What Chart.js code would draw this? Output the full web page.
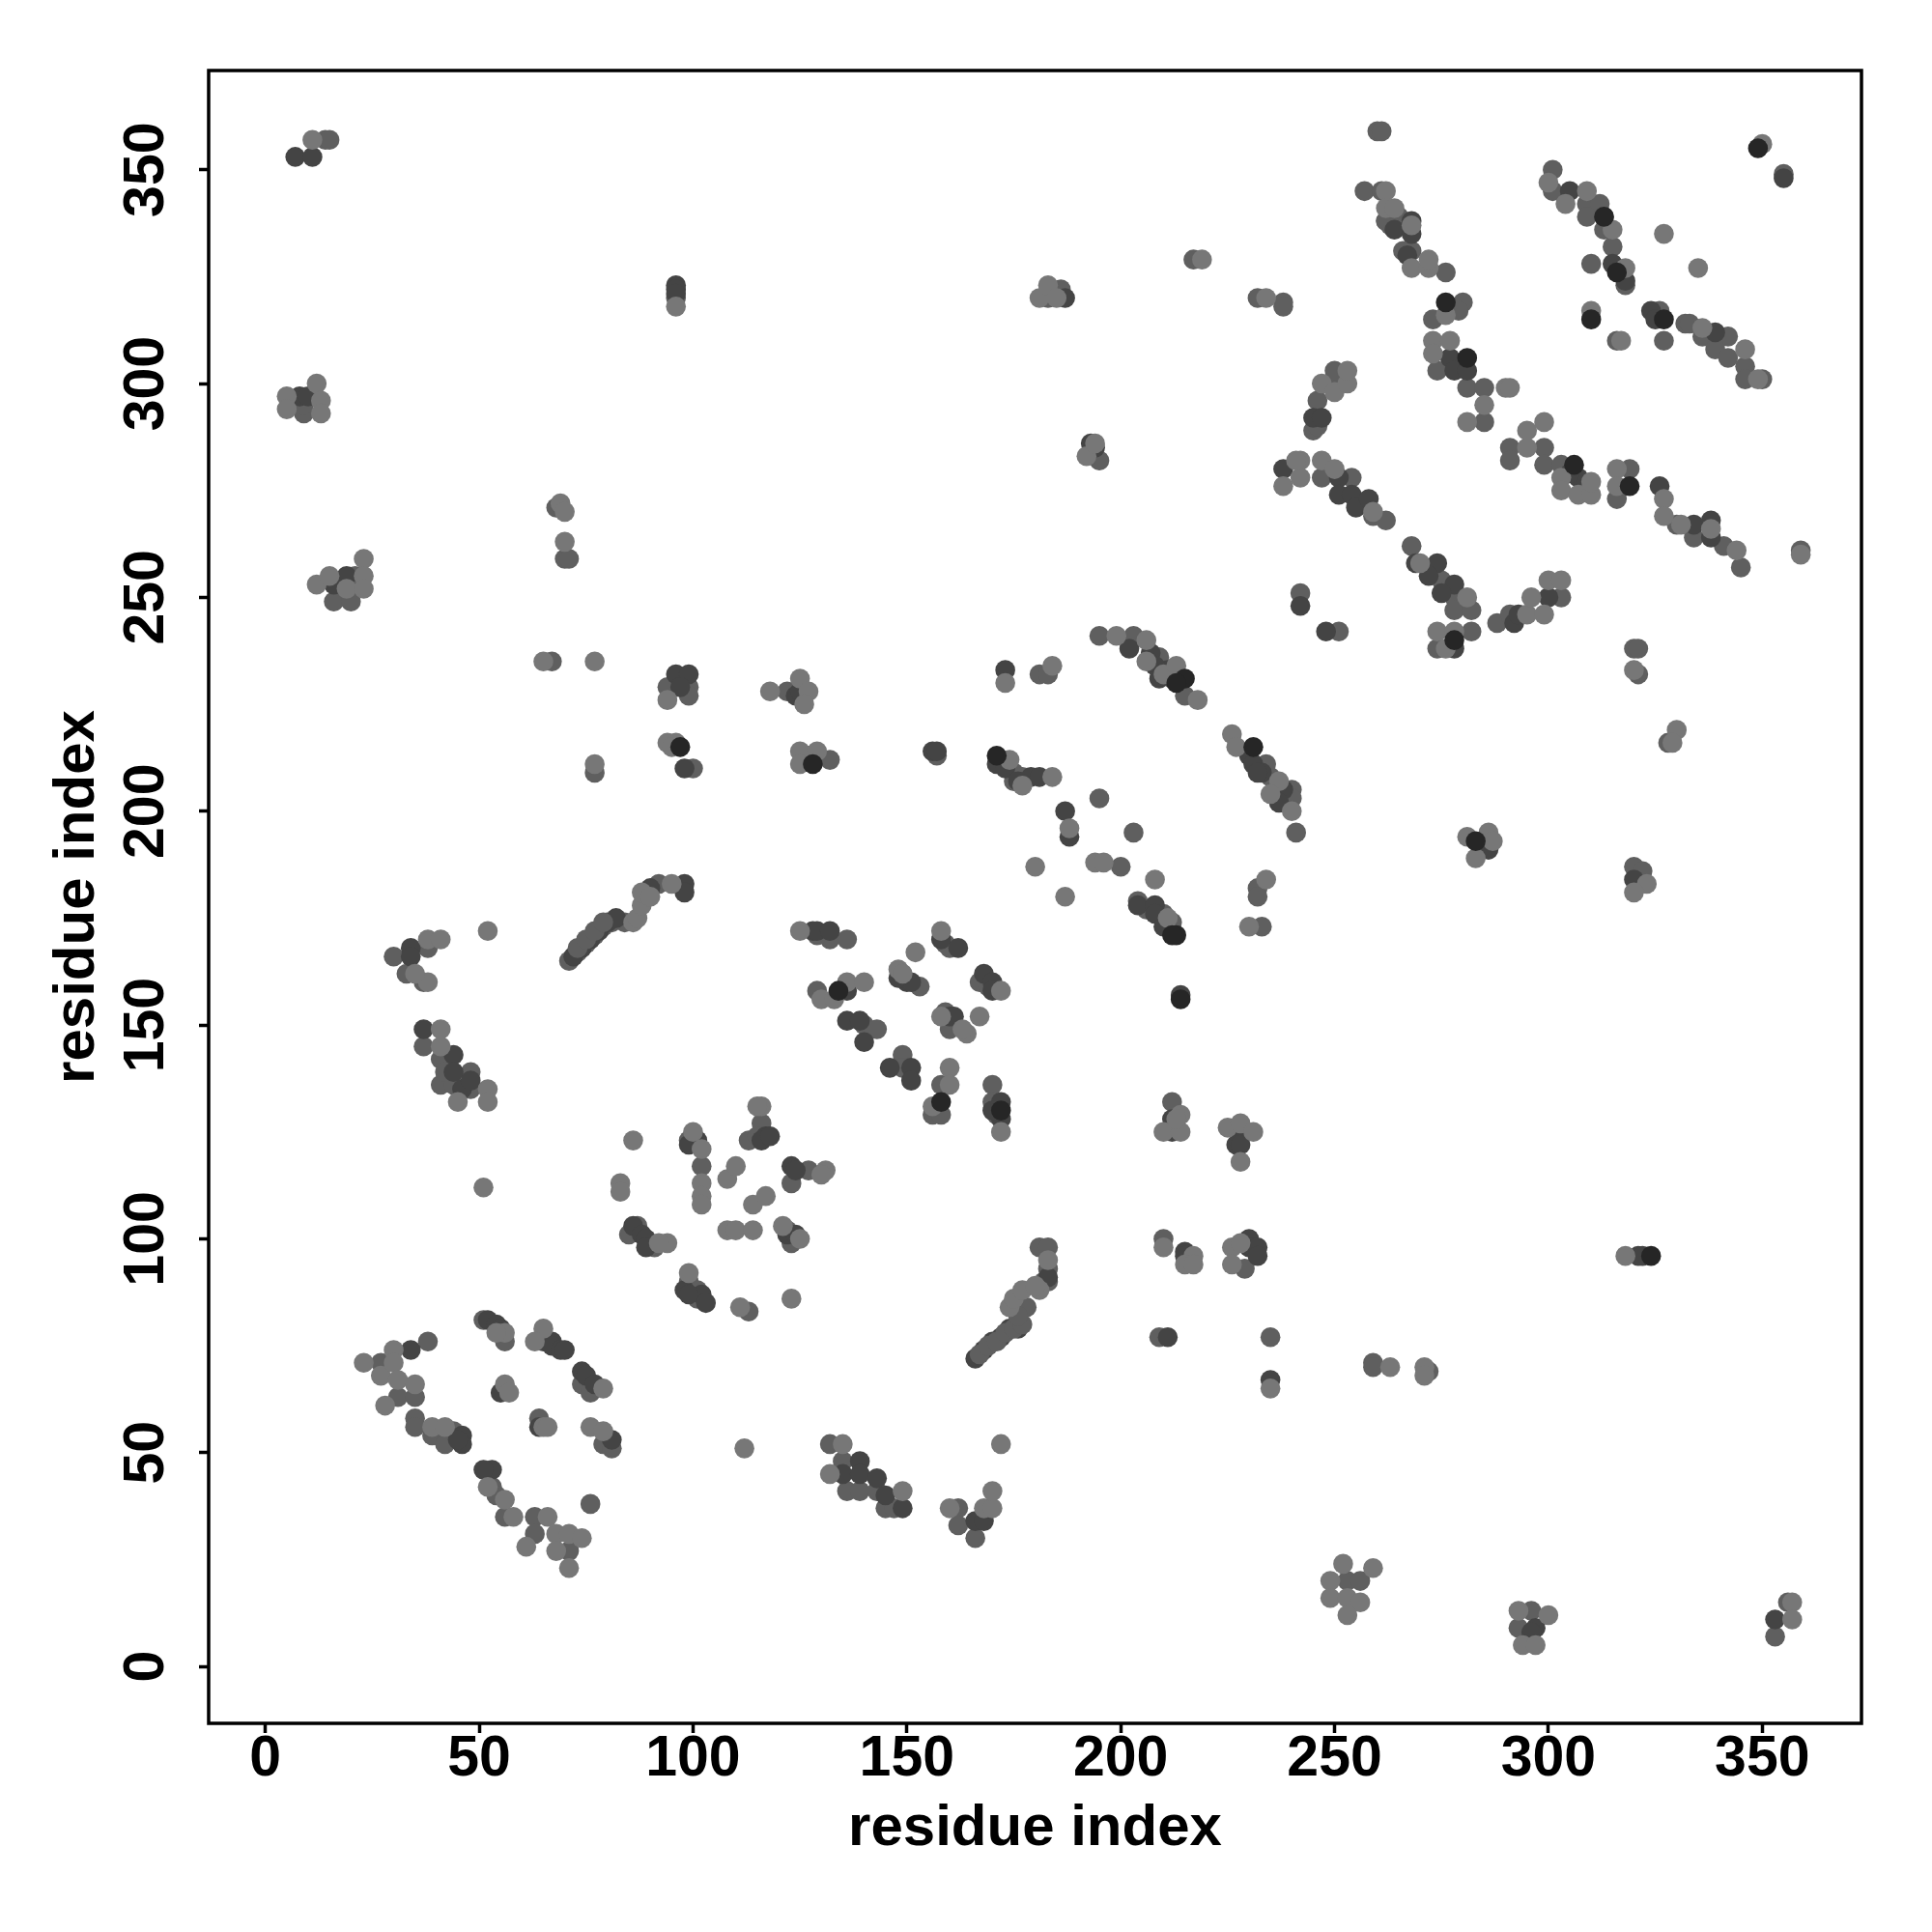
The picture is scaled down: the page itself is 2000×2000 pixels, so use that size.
<!DOCTYPE html>
<html><head><meta charset="utf-8">
<style>html,body{margin:0;padding:0;background:#fff}#w{width:2000px;height:2000px}</style>
<script src="https://cdn.jsdelivr.net/npm/chart.js@4"></script></head>
<body><div id="w"><canvas id="c" width="2000" height="2000"></canvas></div>
<script>
const tickValues=[0,50,100,150,200,250,300,350];
const axisTitle="residue index";
const midContacts=[[27,71],[31,63],[38,76],[35,63],[35,58],[35,56],[39,54],[42,52],[44,55],[53,42],[54,40],[56,35],[63,35],[63,31],[76,38],[71,27],[51,81],[56,76],[64,58],[74,66],[76,64],[79,52],[81,51],[132,52],[135,48],[136,41],[139,41],[143,41],[145,37],[147,37],[162,37],[162,33],[166,30],[182,90],[183,90],[183,93],[181,98],[183,98],[209,77],[210,100],[229,93],[235,77],[259,71],[259,70],[272,69],[253,20],[256,20],[296,13],[293,9],[353,7],[356,15],[85,101],[87,103],[91,98],[99,90],[101,88],[101,86],[113,83],[99,123],[102,117],[123,99],[122,102],[113,123],[116,127],[115,124],[123,113],[127,116],[132,170],[136,170],[129,171],[129,158],[140,150],[143,149],[149,143],[149,140],[158,136],[156,129],[158,129],[170,136],[170,132],[171,129],[153,159],[159,169],[160,168],[167,160],[169,159],[159,153],[161,150],[160,149],[71,165],[73,167],[75,169],[77,171],[79,173],[81,174],[84,174],[92,183],[30,166],[33,162],[38,168],[37,160],[37,145],[41,142],[41,136],[44,136],[42,139],[48,139],[48,135],[16,249],[20,249],[21,255],[9,293],[9,295],[14,357],[15,357],[68,271],[70,259],[71,259],[67,235],[77,209],[96,320],[94,229],[99,229],[99,227],[100,210],[122,228],[132,212],[127,213],[157,213],[175,209],[177,208],[195,203],[203,195],[200,187],[204,179],[206,177],[210,176],[212,174],[212,132],[175,207],[232,182],[232,180],[233,173],[320,187],[322,186],[286,193],[181,232],[183,232],[195,241],[203,241],[209,236],[215,227],[234,211],[235,208],[240,205],[240,203],[241,195],[320,238],[321,238],[321,232],[328,216],[260,359],[261,359],[257,345],[261,345],[262,338],[265,339],[263,337],[268,331],[266,331],[276,326],[273,315],[280,319],[279,317],[274,303],[281,299],[285,299],[285,291],[291,285],[299,285],[291,282],[299,281],[303,281],[319,280],[316,273],[330,267],[334,264],[341,262],[345,257],[359,261],[242,251],[245,289],[246,296],[250,300],[250,303],[246,290],[247,278],[254,278],[259,269],[262,268],[268,262],[275,254],[278,250],[278,247],[282,247],[282,242],[274,238],[288,244],[291,246],[303,250],[301,350],[301,345],[309,342],[312,342],[309,339],[313,336],[315,332],[310,328],[318,323],[316,310],[326,317],[327,310],[332,314],[333,314],[336,311],[342,311],[339,308],[342,306],[346,304],[346,301],[350,301],[355,349],[217,329],[232,320],[238,319],[238,318],[183,320],[186,322],[195,282],[321,183],[313,339],[262,338],[251,242]];
const darkContacts=[[34,74],[46,54],[46,52],[45,53],[53,46],[51,46],[65,76],[67,76],[67,75],[69,74],[70,74],[52,81],[54,80],[55,79],[55,64],[74,69],[75,68],[77,66],[81,53],[64,56],[135,45],[139,48],[139,45],[143,44],[145,40],[149,37],[166,34],[168,34],[183,91],[211,77],[215,97],[215,96],[230,100],[230,98],[232,98],[232,96],[235,67],[321,96],[322,96],[297,9],[296,8],[353,11],[86,103],[88,101],[89,100],[89,98],[98,88],[102,87],[103,85],[99,87],[101,123],[99,122],[122,101],[124,101],[117,124],[116,123],[118,124],[123,117],[124,116],[128,172],[129,172],[132,172],[136,158],[136,151],[139,151],[140,146],[146,140],[151,140],[151,137],[172,132],[172,128],[170,130],[150,160],[151,160],[148,161],[158,170],[162,168],[168,162],[170,160],[170,158],[160,152],[161,152],[72,166],[74,168],[76,170],[78,172],[80,174],[82,175],[90,182],[98,183],[98,181],[34,168],[34,166],[37,149],[44,143],[44,139],[46,135],[48,137],[7,353],[11,353],[8,297],[10,297],[16,253],[19,255],[96,323],[96,322],[96,321],[96,232],[99,232],[97,229],[98,210],[124,227],[125,228],[156,214],[157,214],[171,211],[173,210],[176,207],[179,208],[181,208],[187,200],[188,194],[204,178],[208,178],[208,176],[210,173],[214,157],[212,128],[212,125],[228,125],[227,122],[228,122],[286,191],[320,184],[173,233],[202,238],[207,237],[211,233],[208,234],[212,231],[209,231],[230,213],[231,211],[233,209],[238,205],[237,202],[232,209],[268,338],[264,336],[268,335],[267,330],[277,306],[278,303],[281,303],[307,278],[305,279],[334,267],[338,268],[338,264],[242,248],[248,242],[238,280],[245,292],[247,292],[251,278],[251,274],[254,274],[255,271],[258,273],[269,258],[274,258],[272,255],[278,253],[275,251],[278,238],[292,244],[300,250],[305,345],[318,324],[315,328],[324,317],[325,315],[339,312],[355,348],[187,320],[193,286],[194,285],[326,276],[293,246],[166,72],[168,74],[170,76],[172,77],[174,79],[176,79]];
const lightContacts=[[23,71],[27,68],[30,74],[30,71],[28,61],[31,67],[35,66],[39,56],[42,56],[52,42],[56,39],[58,35],[66,35],[61,28],[68,31],[71,31],[74,30],[68,27],[71,23],[56,78],[54,78],[65,79],[63,76],[56,66],[57,64],[65,56],[66,56],[79,65],[76,56],[79,55],[132,45],[135,52],[149,41],[160,37],[168,37],[170,37],[170,41],[172,52],[112,51],[174,84],[175,86],[177,88],[181,88],[183,95],[210,98],[217,96],[215,94],[217,94],[226,98],[228,99],[226,94],[235,65],[263,70],[271,70],[271,68],[318,96],[249,20],[252,24],[259,23],[249,16],[253,16],[256,15],[253,12],[293,13],[300,12],[294,5],[297,5],[357,15],[357,11],[83,113],[83,111],[94,99],[92,99],[99,92],[111,84],[123,86],[86,123],[100,125],[102,121],[102,113],[102,110],[102,108],[108,114],[110,117],[114,108],[117,110],[108,102],[110,102],[114,102],[121,103],[125,100],[116,131],[115,131],[131,116],[130,115],[125,172],[130,156],[133,156],[136,160],[140,160],[160,140],[160,136],[156,131],[172,125],[148,163],[152,167],[149,162],[158,172],[172,158],[167,152],[164,148],[158,152],[163,149],[86,174],[87,175],[88,178],[88,181],[95,183],[90,180],[52,172],[38,170],[41,170],[38,160],[35,162],[41,149],[41,145],[45,132],[52,135],[52,132],[51,112],[12,253],[15,255],[19,252],[23,259],[23,255],[23,252],[11,357],[5,297],[5,294],[12,300],[13,296],[13,293],[69,272],[70,270],[70,263],[65,235],[77,235],[77,211],[96,318],[94,226],[94,216],[96,216],[95,215],[118,228],[125,231],[127,228],[126,225],[125,214],[129,214],[125,211],[174,212],[184,208],[177,206],[188,196],[180,187],[187,180],[194,188],[196,188],[208,184],[211,175],[214,129],[210,125],[214,125],[213,128],[225,126],[228,127],[231,125],[228,118],[281,194],[286,195],[287,193],[283,189],[323,183],[320,181],[234,184],[230,173],[173,230],[184,234],[199,241],[206,240],[206,235],[210,232],[218,226],[213,234],[226,218],[227,215],[237,207],[240,200],[235,204],[320,233],[330,219],[329,216],[262,345],[262,341],[264,341],[268,337],[268,327],[272,327],[272,329],[276,316],[273,310],[273,307],[277,310],[290,299],[291,299],[285,295],[281,291],[295,285],[295,289],[299,291],[303,278],[303,275],[307,274],[310,274],[310,277],[316,280],[316,276],[327,273],[327,269],[344,261],[338,266],[331,267],[359,260],[238,276],[242,282],[242,278],[247,300],[250,298],[253,300],[253,303],[247,282],[250,280],[259,270],[270,258],[281,250],[274,242],[278,242],[276,238],[295,246],[299,246],[296,250],[300,254],[303,254],[300,347],[309,345],[304,342],[315,336],[318,327],[310,317],[317,310],[327,335],[335,327],[336,313],[346,308],[349,301],[350,356],[219,329],[234,320],[181,320],[183,323],[185,320],[192,283],[194,286],[241,282],[180,89]];
const blackContacts=[[324,96],[134,158],[158,132],[172,130],[97,215],[128,211],[171,213],[213,171],[212,171],[214,156],[283,193],[231,215],[215,231],[213,230],[276,319],[281,306],[306,281],[319,276],[313,339],[316,326],[310,315],[327,315],[349,355],[278,240]];
const chainMid=[[167,73],[169,75],[171,76],[173,78],[175,79],[177,80],[178,84],[176,82],[73,168],[75,170],[77,172],[79,174]];
const toPoints=list=>list.map(([x,y])=>({x,y}));
const shadeDatasets=[
 {list:midContacts,color:"#5f5f5f",order:5},
 {list:darkContacts,color:"#444444",order:4},
 {list:chainMid,color:"#5f5f5f",order:3},
 {list:lightContacts,color:"#777777",order:2},
 {list:blackContacts,color:"#262626",order:1}
].map(s=>({data:toPoints(s.list),backgroundColor:s.color,pointRadius:10.3,pointHoverRadius:10.3,borderWidth:0,order:s.order}));
const boxPlugin={id:"box",afterDraw(ch){const a=ch.chartArea,g=ch.ctx;g.save();g.strokeStyle="#000";g.lineWidth=3.5;g.strokeRect(a.left,a.top,a.right-a.left,a.bottom-a.top);g.restore();}};
const tickFont={family:"'Liberation Sans',Arial,sans-serif",size:59,weight:"bold"};
const titleFont={family:"'Liberation Sans',Arial,sans-serif",size:60,weight:"bold"};
const makeAxis=(min,max,extra)=>Object.assign({type:"linear",min,max,
 afterBuildTicks(s){s.ticks=tickValues.map(value=>({value}));},
 grid:{display:true,drawOnChartArea:false,drawTicks:true,tickLength:10,tickWidth:3.5,tickColor:"#000"},
 border:{display:false},
},extra);
new Chart(document.getElementById("c"),{type:"scatter",
 data:{datasets:shadeDatasets},
 plugins:[boxPlugin],
 options:{responsive:false,animation:false,
  layout:{padding:{left:0,top:73,right:73,bottom:0}},
  plugins:{legend:{display:false},tooltip:{enabled:false}},
  scales:{
   x:makeAxis(-13.26,373.2,{ticks:{color:"#000",font:tickFont,padding:-8,maxRotation:0,minRotation:0,autoSkip:false,callback:v=>String(v)},
     title:{display:true,text:axisTitle,color:"#000",font:titleFont,padding:{top:0,bottom:71}},
     afterFit(s){s.height=216;}}),
   y:makeAxis(-13.3,373.2,{ticks:{color:"#000",font:tickFont,padding:4,minRotation:90,maxRotation:90,crossAlign:"center",autoSkip:false,callback:v=>String(v)},
     title:{display:true,text:axisTitle,color:"#000",font:titleFont,padding:{top:44,bottom:0}},
     afterFit(s){s.width=216;}})
  }
 }});
</script></body></html>
